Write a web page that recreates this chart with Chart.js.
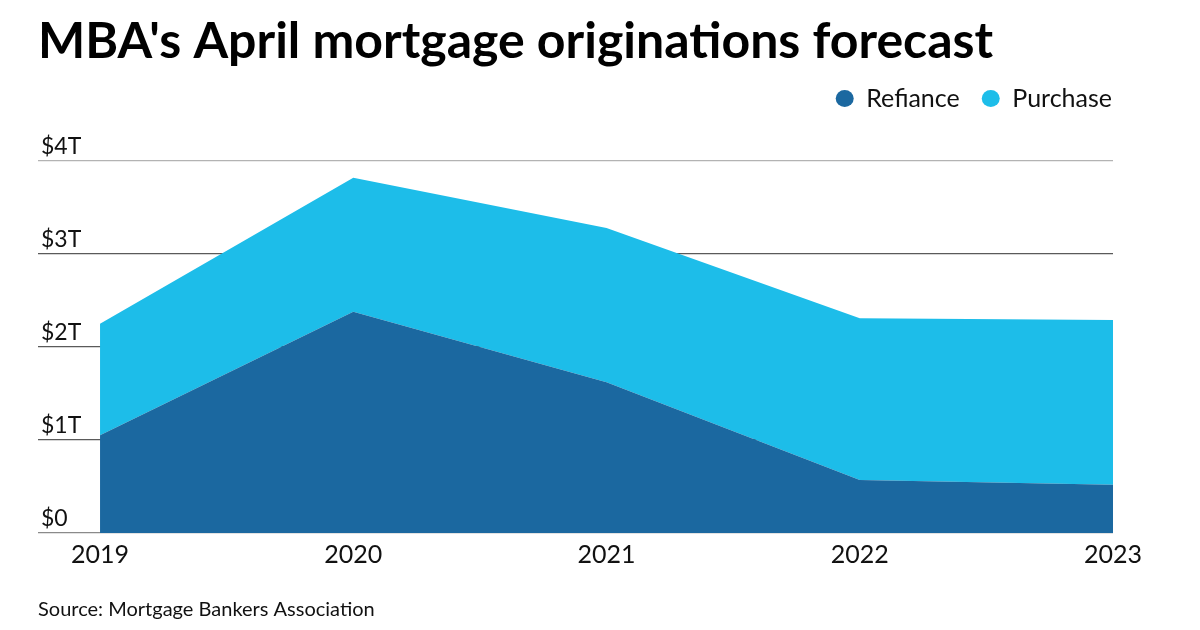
<!DOCTYPE html>
<html>
<head>
<meta charset="utf-8">
<script src="https://cdn.jsdelivr.net/npm/chart.js@4/dist/chart.umd.min.js"></script>
<style>
  html, body { margin: 0; padding: 0; background: #fff; }
  #wrap { width: 1200px; height: 630px; }
</style>
</head>
<body>
<div id="wrap"><canvas id="chart" width="1200" height="630"></canvas></div>
<script>
// values in trillions of dollars
const years = [2019, 2020, 2021, 2022, 2023];
const refinance = [1.05, 2.38, 1.62, 0.57, 0.52];
const purchase = [1.20, 1.44, 1.66, 1.74, 1.77];
const yTicks = [0, 1, 2, 3, 4];
const yTickLabels = ['$0', '$1T', '$2T', '$3T', '$4T'];

const toPoints = (arr) => arr.map((v, i) => ({ x: years[i], y: v }));

Chart.defaults.font.family = 'Lato, "Open Sans", sans-serif';
Chart.defaults.color = '#111';

// extra room under the legend, and nudge the legend toward the right edge
const legendTweak = {
  id: 'legendTweak',
  beforeInit(chart) {
    const fit = chart.legend.fit;
    chart.legend.fit = function () {
      fit.bind(chart.legend)();
      this.height += 30;
    };
  },
  afterLayout(chart) {
    const lg = chart.legend;
    lg.left += 21; lg.right += 21;
    lg.top -= 10; lg.bottom -= 10;
  },
};

new Chart(document.getElementById('chart').getContext('2d'), {
  type: 'line',
  data: {
    datasets: [
      {
        label: 'Refiance',
        data: toPoints(refinance),
        backgroundColor: '#1b68a0',
        borderWidth: 0,
        pointRadius: 0,
        fill: 'origin',
      },
      {
        label: 'Purchase',
        data: toPoints(purchase),
        backgroundColor: '#1dbde9',
        borderWidth: 0,
        pointRadius: 0,
        fill: '-1',
      },
    ],
  },
  options: {
    responsive: false,
    animation: false,
    layout: { padding: { left: 38, right: 87, top: 12, bottom: 8 } },
    plugins: {
      title: {
        display: true,
        text: "MBA's April mortgage originations forecast",
        align: 'start',
        color: '#000',
        font: { size: 50, weight: 'bold' },
        padding: { top: 0, bottom: 2 },
      },
      legend: {
        position: 'top',
        align: 'end',
        labels: {
          usePointStyle: true,
          pointStyle: 'circle',
          pointStyleWidth: 18,
          boxWidth: 12,
          boxHeight: 12,
          font: { size: 25 },
          color: '#111',
          padding: 22,
        },
      },
      subtitle: {
        display: true,
        position: 'bottom',
        align: 'start',
        text: 'Source: Mortgage Bankers Association',
        font: { size: 20 },
        color: '#111',
        padding: { top: 29, bottom: 0 },
      },
      tooltip: { enabled: false },
    },
    scales: {
      x: {
        type: 'linear',
        min: 2018.755,
        max: 2023,
        afterBuildTicks: (scale) => { scale.ticks = years.map((v) => ({ value: v })); },
        ticks: {
          callback: (v) => String(v),
          font: { size: 25 },
          color: '#111',
          padding: -1,
          maxRotation: 0,
        },
        grid: { display: false },
        border: { display: false },
      },
      y: {
        stacked: true,
        min: 0,
        max: 4,
        afterBuildTicks: (scale) => { scale.ticks = yTicks.map((v) => ({ value: v })); },
        afterFit: (scale) => { scale.width = 0; },
        ticks: {
          mirror: true,
          padding: 3,
          labelOffset: -14,
          font: { size: 23 },
          color: '#111',
          callback: (v) => yTickLabels[yTicks.indexOf(v)],
        },
        grid: {
          drawTicks: false,
          lineWidth: 1.2,
          color: (ctx) => (ctx.tick && ctx.tick.value === 4 ? '#b3b3b3' : (ctx.tick && ctx.tick.value === 0 ? '#8a8a8a' : '#5a5a5a')),
        },
        border: { display: false },
      },
    },
  },
  plugins: [legendTweak],
});
</script>
</body>
</html>
